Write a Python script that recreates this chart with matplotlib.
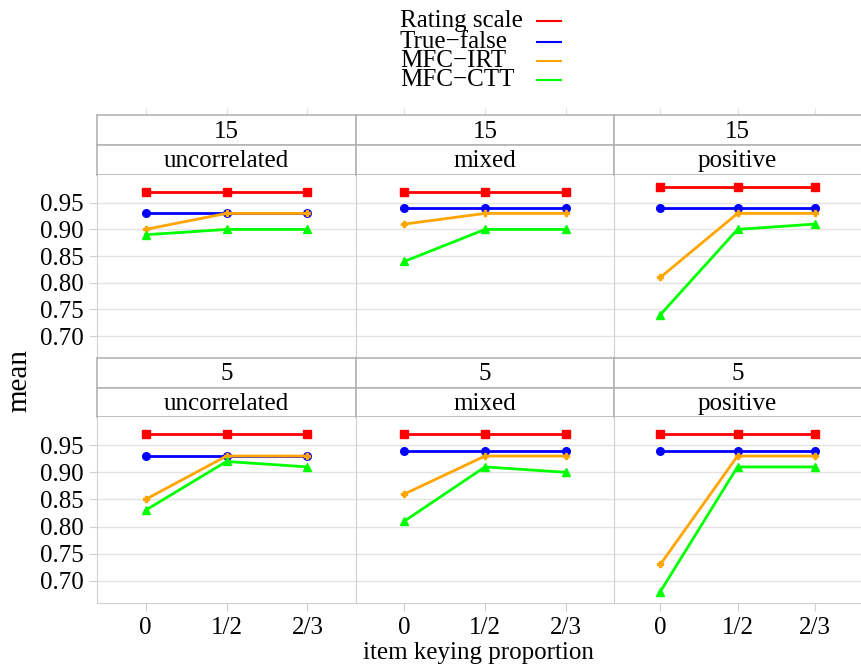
import matplotlib
matplotlib.use("Agg")
import matplotlib.pyplot as plt
from matplotlib.lines import Line2D

plt.rcParams['font.family'] = ['Liberation Serif', 'DejaVu Serif']

# data
x_labels = ["0", "1/2", "2/3"]
methods = ["Rating scale", "True\u2212false", "MFC\u2212IRT", "MFC\u2212CTT"]
colors = ["#ff0000", "#0000ff", "#ffa500", "#00ff00"]
markers = ["s", "o", "P", "^"]
msizes = [6, 5.5, 4, 6]
rows = ["15", "5"]
cols = ["uncorrelated", "mixed", "positive"]

# mean[row][col][method] -> values at 0, 1/2, 2/3
rating_15 = [[0.97, 0.97, 0.97], [0.97, 0.97, 0.97], [0.98, 0.98, 0.98]]
tf_15 = [[0.93, 0.93, 0.93], [0.94, 0.94, 0.94], [0.94, 0.94, 0.94]]
irt_15 = [[0.90, 0.93, 0.93], [0.91, 0.93, 0.93], [0.81, 0.93, 0.93]]
ctt_15 = [[0.89, 0.90, 0.90], [0.84, 0.90, 0.90], [0.74, 0.90, 0.91]]
rating_5 = [[0.97, 0.97, 0.97], [0.97, 0.97, 0.97], [0.97, 0.97, 0.97]]
tf_5 = [[0.93, 0.93, 0.93], [0.94, 0.94, 0.94], [0.94, 0.94, 0.94]]
irt_5 = [[0.85, 0.93, 0.93], [0.86, 0.93, 0.93], [0.73, 0.93, 0.93]]
ctt_5 = [[0.83, 0.92, 0.91], [0.81, 0.91, 0.90], [0.68, 0.91, 0.91]]
data = [[rating_15, tf_15, irt_15, ctt_15], [rating_5, tf_5, irt_5, ctt_5]]

yticks = [0.70, 0.75, 0.80, 0.85, 0.90, 0.95]

W, H = 861, 665
fig = plt.figure(figsize=(W / 100, H / 100), dpi=100)

def box(x0, y0, x1, y1):
    return [x0 / W, 1 - y1 / H, (x1 - x0) / W, (y1 - y0) / H]

col_x = [(97, 356), (356, 614), (614, 861)]
row_y = [(115, 145, 175, 358), (358, 388, 417, 603)]
grid_c = "#e3e3e3"
line_c = "#d0d0d0"
strip_c = "#b4b4b4"
fs = 18
xs = list(range(len(x_labels)))

for r in range(2):
    s0, s1, p0, p1 = row_y[r]
    for c in range(3):
        x0, x1 = col_x[c]
        # strips
        for k, (ya, yb, txt) in enumerate([(s0, s1, rows[r]), (s1, p0, cols[c])]):
            sa = fig.add_axes(box(x0, ya, x1, yb))
            sa.set_xlim(-0.6, 2.6)
            sa.set_ylim(0, 1)
            sa.set_yticks([])
            for sp in sa.spines.values():
                sp.set_color(strip_c)
                sp.set_linewidth(1.2)
            sa.spines['right'].set_visible(c < 2)
            if r == 0 and k == 0:
                sa.set_xticks(xs)
                sa.xaxis.tick_top()
                sa.tick_params(axis='x', length=5, color=grid_c, labeltop=False)
            else:
                sa.set_xticks([])
            sa.text(0.5, 0.45, txt, transform=sa.transAxes, ha='center',
                    va='center', fontsize=fs)
        # panel
        ax = fig.add_axes(box(x0, p0, x1, p1))
        ax.set_xlim(-0.6, 2.6)
        ax.set_ylim(0.659, 1.002)
        ax.set_yticks(yticks)
        ax.grid(axis='y', color=grid_c, linewidth=1)
        ax.set_axisbelow(True)
        for sp in ['top', 'right']:
            ax.spines[sp].set_visible(False)
        ax.spines['left'].set_color(line_c)
        ax.spines['bottom'].set_color(line_c)
        ax.spines['bottom'].set_visible(r == 1)
        ax.tick_params(axis='both', color=line_c, length=6, labelsize=fs)
        if c == 0:
            ax.set_yticklabels([f"{v:.2f}" for v in yticks])
        else:
            ax.tick_params(axis='y', length=0, labelleft=False)
        ax.set_xticks(xs)
        if r == 1:
            ax.set_xticklabels(x_labels)
            ax.tick_params(axis='x', pad=4)
        else:
            ax.tick_params(axis='x', length=0, labelbottom=False)
        for m in range(4):
            ax.plot(xs, data[r][m][c], color=colors[m], marker=markers[m],
                    markersize=msizes[m], linewidth=2, clip_on=False)

fig.text(19 / W, 1 - 381 / H, "mean", rotation=90, ha='center', va='center',
         fontsize=21)
fig.text(478 / W, 1 - 653 / H, "item keying proportion", ha='center',
         va='center', fontsize=fs)

# legend
leg_y = [21, 42, 61, 80]
for m in range(4):
    fig.text(400 / W, 1 - leg_y[m] / H, methods[m], ha='left', va='center',
             fontsize=fs)
    fig.add_artist(Line2D([537 / W, 561 / W], [1 - leg_y[m] / H] * 2,
                          color=colors[m], linewidth=1.5))

fig.savefig("out.png", dpi=100)
